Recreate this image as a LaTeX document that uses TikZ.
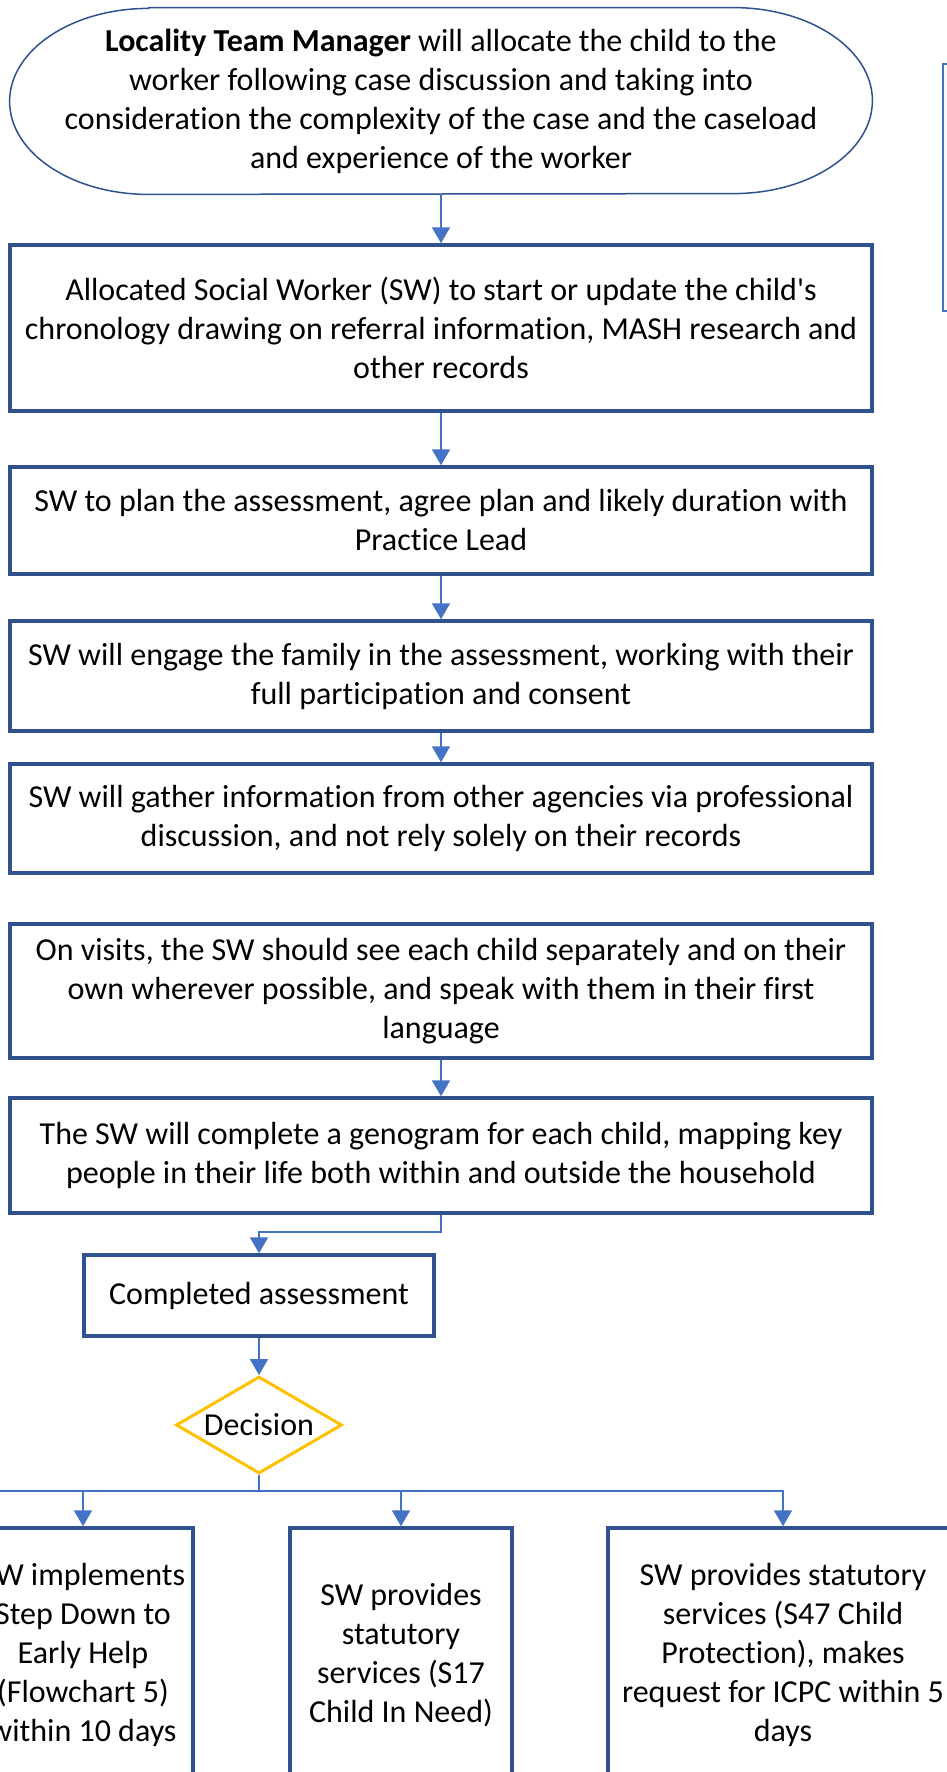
\documentclass[tikz,border=0pt]{standalone}
\usepackage{fontspec}
\setmainfont{Carlito}[Ligatures={TeX,NoCommon}]
\usetikzlibrary{arrows.meta,shapes.geometric}
\definecolor{boxblue}{RGB}{47,82,143}
\definecolor{linkblue}{RGB}{68,114,196}
\definecolor{decgold}{RGB}{255,192,0}
\begin{document}
\begin{tikzpicture}[x=0.5pt,y=-0.5pt,
		every node/.style={font=\fontsize{16}{19.5}\selectfont,align=center,inner sep=0pt},
		stage/.style={draw=boxblue,line width=1.75pt,minimum width=431pt},
		outcome/.style={draw=boxblue,line width=1.75pt,minimum height=127pt},
		link/.style={draw=linkblue,line width=1pt},
		arr/.style={link,-{Triangle[width=9pt,length=8pt]}}]
		\useasboundingbox (0,0) rectangle (947,1772);
		\clip (0,0) rectangle (947,1772);
		\node[minimum width=431pt,minimum height=93pt] (mgr) at (441,101) {\textbf{Locality Team Manager} will allocate the child to the\\ worker following case discussion and taking into\\ consideration the complexity of the case and the caseload\\ and experience of the worker};
		\draw [boxblue,line width=0.75pt] ([xshift=69.5pt]mgr.north west) -- ([xshift=-69.5pt]mgr.north east)
			arc [start angle=90,end angle=-90,x radius=69.5pt,y radius=46.5pt] -- ([xshift=69.5pt]mgr.south west)
			arc [start angle=270,end angle=90,x radius=69.5pt,y radius=46.5pt] -- cycle;
		\node[stage,minimum height=83pt] (chron) at (441,328) {Allocated Social Worker (SW) to start or update the child\textquotesingle s\\ chronology drawing on referral information, MASH research and\\ other records};
		\node[stage,minimum height=53.5pt] (plan) at (441,520.5) {SW to plan the assessment, agree plan and likely duration with\\ Practice Lead};
		\node[stage,minimum height=55pt] (engage) at (441,676) {SW will engage the family in the assessment, working with their\\ full participation and consent};
		\node[stage,minimum height=54.5pt] (gather) at (441,818.5) {SW will gather information from other agencies via professional\\ discussion, and not rely solely on their records};
		\node[stage,minimum height=67pt] (visits) at (441,991) {On visits, the SW should see each child separately and on their\\ own wherever possible, and speak with them in their first\\ language};
		\node[stage,minimum height=57.5pt] (geno) at (441,1155.5) {The SW will complete a genogram for each child, mapping key\\ people in their life both within and outside the household};
		\node[draw=boxblue,line width=1.75pt,minimum width=175pt,minimum height=40.5pt] (done) at (259,1295.5) {Completed assessment};
		\node[diamond,draw=decgold,line width=1.5pt,aspect=1.7,minimum width=83pt,minimum height=48.5pt] (dec) at (259,1425) {Decision};
		\node[outcome,minimum width=110pt] (stepdown) at (83,1655) {SW implements\\ Step Down to\\ Early Help\\ (Flowchart 5)\\ within 10 days};
		\node[outcome,minimum width=111pt] (cin) at (401,1655) {SW provides\\ statutory\\ services (S17\\ Child In Need)};
		\node[outcome,minimum width=175pt] (cp) at (783,1655) {SW provides statutory\\ services (S47 Child\\ Protection), makes\\ request for ICPC within 5\\ days};
		\node[draw=linkblue,line width=1pt,fill=linkblue!4,minimum width=100pt,minimum height=123.5pt,anchor=north west] (note) at (942,63) {};
		\coordinate (bus) at (259,1491);
		\coordinate (busL) at (-10,1491);
		\draw [arr] (mgr.south) -- (chron.north);
		\draw [arr] (chron.south) -- (plan.north);
		\draw [arr] (plan.south) -- (engage.north);
		\draw [arr] (engage.south) -- (gather.north);
		\draw [arr] (visits.south) -- (geno.north);
		\draw [arr] (geno.south) -- ++(0,17) -| (done.north);
		\draw [arr] (done.south) -- (dec.north);
		\draw [link] (dec.south) -- (bus) -- (busL);
		\draw [arr] (bus) -| (stepdown.north);
		\draw [arr] (bus) -| (cin.north);
		\draw [arr] (bus) -| (cp.north);
	\end{tikzpicture}
\end{document}
